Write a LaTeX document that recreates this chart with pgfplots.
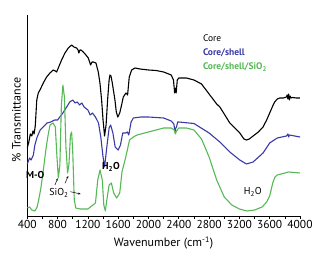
\documentclass[border=0pt]{standalone}
\usepackage{fontspec}
\setmainfont{PT Sans}
\usepackage{pgfplots}
\pgfplotsset{compat=1.18}
\usetikzlibrary{arrows.meta}
\definecolor{cblue}{RGB}{58,58,165}
\definecolor{cgreen}{RGB}{85,185,85}
\begin{document}
\begin{tikzpicture}
\useasboundingbox (-27.3pt,-37pt) rectangle (289.7pt,216pt);
\begin{axis}[
  scale only axis, width=272.7pt, height=201pt,
  xmin=400, xmax=4000, ymin=0, ymax=201,
  axis lines*=left,
  axis line style={line width=0.8pt},
  xtick={400,800,...,4000},
  minor xtick={600,1000,...,3800},
  ytick=\empty,
  tick align=outside,
  major tick length=3pt, minor tick length=3pt,
  every tick/.style={line width=0.6pt, black},
  /pgf/number format/assume math mode=true,
  /pgf/number format/1000 sep={},
  ticklabel style={font=\fontsize{11.5}{13}\selectfont, inner sep=1.5pt},
  xlabel={Wavenumber (cm\textsuperscript{-1})},
  xlabel style={font=\fontsize{12}{14}\selectfont, at={(axis description cs:0.5,0)}, anchor=center, yshift=-27pt},
  ylabel={\% Transmittance},
  ylabel style={font=\fontsize{12}{14}\selectfont, at={(axis description cs:-0.04,0.478)}, anchor=center},
  clip=false,
]
\addplot[black, line width=1.1pt, line join=round] coordinates {
(400,68)(420,74)(440,82)(460,80)(475,85)(490,82)(505,90)(525,116)(545,123)(567,126)
(611,133)(655,139)(699,143)(743,146)(770,145)(787,144)(809,148)(853,156)(897,163)
(941,168)(985,171)(1016,169)(1051,168)(1070,166)(1081,163)(1095,166)(1108,166)
(1139,164)(1174,161)(1205,158)(1236,151)(1255,154)(1271,154)(1306,153)(1337,144)
(1359,133)(1381,116)(1400,96)(1420,80)(1440,91)(1460,116)(1480,136)(1491,141)
(1505,140)(1522,133)(1557,116)(1575,104)(1595,99)(1620,103)(1645,111)(1667,119)
(1702,123)(1715,122)(1724,121)(1746,139)(1777,146)(1822,148)(1888,147)(2000,146)
(2100,145.5)(2200,144)(2300,141)(2330,136)(2345,123)(2355,128)(2365,123)(2380,136)
(2400,138)(2500,138)(2600,136)(2700,132)(2800,122)(2900,112)(2942,109)(3000,102)
(3073,93)(3140,88)(3205,83)(3260,77)(3293,76)(3330,77)(3381,80)(3450,84)(3512,89)
(3560,96)(3600,103)(3640,110)(3666,114)(3700,117)(3733,118)(3780,118)(3821,119)
(3830,121)(3840,117)(3850,122)(3860,116)(3870,120)(3880,118)(3900,118.5)(3950,118)(4000,118)
};
\addplot[cblue, line width=1.1pt, line join=round] coordinates {
(400,52)(430,58)(450,56)(480,61)(500,71)(530,79)(570,86)(610,89)(660,93)(710,94)
(760,96)(800,96)(830,99)(870,103)(920,109)(960,114)(1000,116)(1030,113)(1060,114)
(1090,111)(1120,113)(1150,109)(1200,106)(1230,101)(1260,103)(1300,99)(1340,93)
(1370,79)(1400,59)(1420,49)(1450,69)(1480,88)(1500,91)(1530,83)(1560,69)(1600,66)
(1630,71)(1660,83)(1700,83)(1720,84)(1740,81)(1770,94)(1800,98)(1900,99)(2000,99)
(2200,98)(2300,95)(2335,92)(2350,84)(2360,88)(2370,89)(2385,94)(2400,94)(2600,92.5)
(2800,83)(2942,74)(3073,64)(3205,56)(3293,52)(3381,54)(3512,63)(3600,73)(3700,78)
(3821,80)(3840,82)(3850,79)(3860,81)(4000,79)
};
\addplot[cgreen, line width=1.1pt, line join=round] coordinates {
(400,8)(430,9)(460,6)(500,5)(530,9)(550,16)(575,26)(600,39)(625,54)(650,69)(675,81)
(700,91)(740,93)(770,89)(790,61)(810,38)(830,51)(850,111)(870,131)(890,119)(910,69)
(932,43)(950,52)(970,81)(985,84)(1000,64)(1020,16)(1040,8)(1100,7)(1200,7)(1300,13)
(1330,36)(1360,46)(1390,36)(1410,11)(1430,5)(1450,16)(1480,31)(1510,33)(1540,23)
(1580,18)(1620,23)(1650,44)(1700,59)(1750,76)(1800,79)(1850,81)(2000,84)(2100,86)
(2200,88)(2300,88)(2340,86)(2355,82)(2370,85)(2400,88)(2500,88)(2600,86)(2700,77)
(2800,59)(2900,36)(3000,19)(3100,11)(3200,7)(3300,5)(3400,6)(3500,9)(3560,14)
(3600,20)(3640,33)(3670,39)(3700,41)(3800,43)(3850,44)(4000,43)
};
\node[anchor=west, font=\fontsize{9.5}{11}\selectfont, inner sep=0pt] at (axis cs:2717,178) {Core};
\node[anchor=west, font=\fontsize{9.5}{11}\selectfont\bfseries, text=cblue, inner sep=0pt] at (axis cs:2717,163.3) {Core/shell};
\node[anchor=west, font=\fontsize{9.5}{11}\selectfont\bfseries, text=cgreen, inner sep=0pt] at (axis cs:2717,149) {Core/shell/SiO\textsubscript{2}};
\node[font=\fontsize{10}{12}\selectfont\bfseries, inner sep=0pt] at (axis cs:505,41) {M-O};
\node[font=\fontsize{10}{12}\selectfont\bfseries, inner sep=0pt] at (axis cs:1504,49) {H\textsubscript{2}O};
\node[font=\fontsize{10}{12}\selectfont, inner sep=0pt] at (axis cs:818,23) {SiO\textsubscript{2}};
\node[font=\fontsize{10}{12}\selectfont, inner sep=0pt] at (axis cs:3377,24) {H\textsubscript{2}O};
\draw[-{Stealth[length=2.5pt,width=2pt]}, line width=0.5pt] (axis cs:765,31) -- (axis cs:801,37.7);
\draw[-{Stealth[length=2.5pt,width=2pt]}, line width=0.5pt] (axis cs:897,32.7) -- (axis cs:941,40);
\draw[-{Stealth[length=2.5pt,width=2pt]}, line width=0.5pt] (axis cs:968,24.3) -- (axis cs:1104,22);
\end{axis}
\end{tikzpicture}
\end{document}
